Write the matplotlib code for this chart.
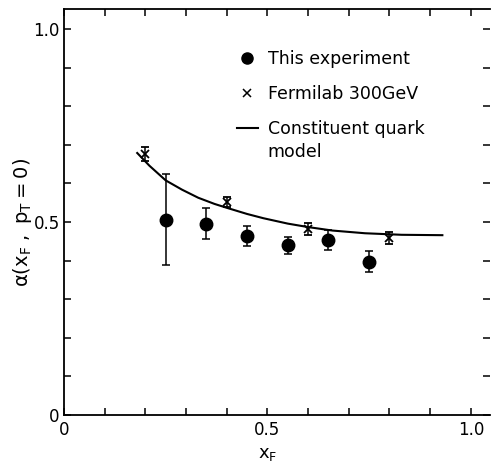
import matplotlib
matplotlib.use("Agg")
import matplotlib.pyplot as plt
from matplotlib.lines import Line2D

plt.rcParams['font.family'] = ['DejaVu Sans']
plt.rcParams['mathtext.default'] = 'regular'

# This experiment (filled circles)
exp_x = [0.25, 0.35, 0.45, 0.55, 0.65, 0.75]
exp_y = [0.505, 0.495, 0.464, 0.440, 0.453, 0.396]
exp_err_lo = [0.116, 0.039, 0.026, 0.023, 0.026, 0.026]
exp_err_hi = [0.119, 0.041, 0.026, 0.021, 0.027, 0.029]

# Fermilab 300 GeV (crosses)
fnal_x = [0.2, 0.4, 0.6, 0.8]
fnal_y = [0.676, 0.552, 0.482, 0.458]
fnal_err = [0.018, 0.014, 0.015, 0.015]

# Constituent quark model curve
model_x = [0.18, 0.21, 0.25, 0.29, 0.33, 0.37, 0.40, 0.45, 0.49, 0.55, 0.60, 0.66, 0.74, 0.83, 0.93]
model_y = [0.679, 0.646, 0.608, 0.584, 0.563, 0.547, 0.537, 0.521, 0.510, 0.496, 0.487, 0.478, 0.471, 0.467, 0.466]

ticks = [0.0, 0.1, 0.2, 0.3, 0.4, 0.5, 0.6, 0.7, 0.8, 0.9, 1.0]
tick_labels = ["0", "", "", "", "", "0.5", "", "", "", "", "1.0"]

fig = plt.figure(figsize=(4.91, 4.66), dpi=100)
ax = fig.add_axes([0.1303, 0.1094, 0.8676, 0.8712])

ax.plot(model_x, model_y, color='black', lw=1.5)
ax.errorbar(exp_x, exp_y, yerr=[exp_err_lo, exp_err_hi], fmt='o', color='black',
            ms=9, elinewidth=1.1, capsize=3, capthick=1.1)
ax.errorbar(fnal_x, fnal_y, yerr=fnal_err, fmt='x', color='black',
            ms=6, mew=1.3, elinewidth=1.1, capsize=3, capthick=1.1)

ax.set_xlim(0, 1.047)
ax.set_ylim(0, 1.052)
ax.set_xticks(ticks)
ax.set_xticklabels(tick_labels)
ax.set_yticks(ticks)
ax.set_yticklabels(tick_labels)
ax.tick_params(direction='in', length=5, width=1.1, labelsize=12,
               top=True, right=True)
ax.tick_params(axis='y', pad=3)
ax.tick_params(axis='x', pad=4)
for side in ['left', 'bottom', 'top']:
    ax.spines[side].set_linewidth(1.3)
ax.spines['right'].set_visible(False)

ax.set_xlabel(r"$x_F$", fontsize=13)
ax.xaxis.set_label_coords(0.5 / 1.047, -0.073)
ax.set_ylabel(r"$\alpha(x_F\ ,\ p_T = 0)$", fontsize=14)
ax.yaxis.set_label_coords(-0.07, 0.5 / 1.052)

handles = [Line2D([], [], marker='o', color='black', ls='none', ms=8),
           Line2D([], [], marker='x', color='black', ls='none', ms=6, mew=1.1),
           Line2D([], [], color='black', lw=1.5)]
labels = ["This experiment", "Fermilab 300GeV", "Constituent quark"]
leg = ax.legend(handles, labels, loc='upper left', bbox_to_anchor=(0.406, 0.90),
                frameon=False, fontsize=12.5, handlelength=1.2, handletextpad=0.6,
                labelspacing=1.0, borderpad=0, borderaxespad=0)
ax.text(0.477, 0.648, "model", transform=ax.transAxes, fontsize=12.5,
        ha='left', va='center')

fig.savefig("out.png", dpi=100)
